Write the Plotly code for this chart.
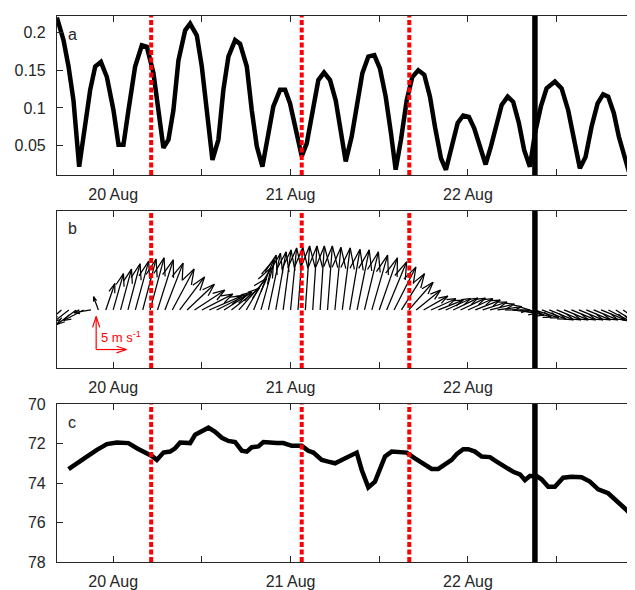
import pandas as pd
import plotly.graph_objects as go

DAY0 = pd.Timestamp("2016-08-20 00:00")

# ---- data (hours since 20 Aug 00:00) ----
# panel a
a_hours = [-7.61, -6.72, -6.04, -5.37, -4.60, -3.79, -3.11, -2.43, -1.66, -0.85, 0.04,
           0.72, 1.39, 2.07, 2.97, 3.88, 4.56, 5.45, 6.12, 6.80, 7.48,
           8.15, 8.83, 9.74, 10.41, 11.32, 11.99, 12.67, 13.43, 14.24, 14.91,
           15.59, 16.50, 17.17, 18.08, 18.75, 19.43, 20.19, 21.00, 21.67, 22.58,
           23.26, 23.93, 24.61, 25.51, 26.19, 27.08, 27.76, 28.53, 29.34, 30.11,
           30.83, 31.46, 32.27, 32.95, 33.71, 34.52, 35.33, 36.10, 36.87, 37.59,
           38.22, 38.94, 39.71, 40.47, 41.28, 42.09, 42.86, 43.54, 44.35, 45.02,
           45.80, 46.61, 47.36, 48.13, 48.85, 49.62, 50.39, 51.11, 51.88, 52.56,
           53.37, 54.12, 54.89, 55.61, 56.38, 57.06, 57.87, 58.64, 59.76, 60.67,
           61.56, 62.37, 63.14, 63.91, 64.72, 65.54, 66.29, 66.97, 67.74, 68.41,
           69.23, 69.90, 70.58]
a_vals = [0.220, 0.190, 0.155, 0.110, 0.022, 0.075, 0.124, 0.155, 0.161, 0.141, 0.097,
          0.051, 0.051, 0.097, 0.155, 0.183, 0.181, 0.146, 0.097, 0.047, 0.058,
          0.097, 0.163, 0.203, 0.212, 0.196, 0.155, 0.097, 0.031, 0.058, 0.124,
          0.168, 0.190, 0.185, 0.155, 0.097, 0.049, 0.022, 0.066, 0.102, 0.124,
          0.124, 0.106, 0.075, 0.036, 0.053, 0.097, 0.137, 0.147, 0.137, 0.110,
          0.067, 0.029, 0.062, 0.106, 0.146, 0.168, 0.170, 0.152, 0.115, 0.066,
          0.018, 0.058, 0.110, 0.141, 0.150, 0.144, 0.115, 0.075, 0.033, 0.018,
          0.049, 0.080, 0.090, 0.088, 0.073, 0.047, 0.025, 0.049, 0.080, 0.104,
          0.115, 0.108, 0.080, 0.044, 0.022, 0.066, 0.102, 0.126, 0.135, 0.126,
          0.097, 0.058, 0.020, 0.035, 0.075, 0.106, 0.118, 0.115, 0.093, 0.062,
          0.031, 0.011, 0.040]

# panel b: hourly wind vectors (m/s)
wind_hours = list(range(-7, 71))
wind_u = [-1.5, -2.5, -3.2, -3.3, -2.8, -0.8, 1.5, 1.7, 1.8, 2.0,
          2.2, 2.2, 2.3, 2.6, 3.0, 3.6, 4.1, 4.5, 5.0, 5.1,
          5.3, 5.0, 4.6, 4.6, 4.6, 4.1, 3.3, 2.5, 2.0, 1.7,
          1.3, 1.0, 0.8, 0.7, 0.7, 0.7, 0.8, 1.0, 1.3, 1.7,
          2.0, 2.3, 2.6, 3.0, 3.3, 3.6, 3.8, 4.0, 4.0, 4.0,
          4.1, 4.1, 4.1, 4.1, 4.1, 4.1, 4.1, 4.0, 4.0, 4.0,
          4.0, 4.0, 4.0, 4.0, 4.0, 4.0, 4.0, 4.0, 4.0, 4.0,
          4.0, 4.0, 4.0, 4.0, 3.6, 3.1, 2.6, 2.3]
wind_v = [-1.2, -1.8, -2.2, -1.6, -0.4, 2.0, 4.0, 5.5, 6.2, 7.0,
          7.4, 7.7, 7.9, 7.6, 7.1, 6.2, 5.0, 3.9, 3.0, 2.4,
          2.1, 2.3, 2.7, 3.3, 4.8, 6.4, 7.6, 8.3, 8.6, 8.8,
          9.1, 9.4, 9.5, 9.7, 9.7, 9.7, 9.7, 9.5, 9.4, 9.2,
          9.1, 8.8, 8.3, 7.9, 7.3, 6.5, 5.5, 4.2, 3.0, 2.1,
          1.7, 1.5, 1.7, 1.8, 1.8, 1.7, 1.5, 1.2, 0.9, 0.5,
          0.0, -0.5, -0.8, -1.1, -1.2, -1.4, -1.5, -1.5, -1.5, -1.5,
          -1.5, -1.5, -1.5, -1.5, -1.7, -1.8, -1.8, -1.8]

# panel c
c_hours = [-6.04, -5.14, -3.56, -2.20, -0.85, 0.50, 2.07, 3.20, 4.56, 5.23,
           5.91, 6.80, 7.71, 8.38, 9.06, 9.74, 10.41, 11.09, 11.99, 12.89,
           13.79, 14.70, 15.59, 16.50, 17.40, 18.08, 18.75, 19.65, 20.32, 21.23,
           22.13, 23.03, 24.16, 25.51, 26.41, 27.08, 28.22, 29.11, 30.02, 30.92,
           32.04, 32.95, 33.63, 34.52, 35.42, 36.10, 36.78, 37.68, 38.80, 39.71,
           40.83, 41.96, 43.09, 43.98, 44.89, 45.80, 46.47, 47.36, 48.04, 48.95,
           49.85, 50.97, 51.88, 53.00, 54.12, 55.03, 55.71, 56.38, 57.29, 57.96,
           58.86, 59.76, 60.88, 62.02, 63.37, 64.49, 65.62, 66.97, 68.10, 69.23,
           70.58]
c_vals = [73.30, 73.09, 72.66, 72.32, 72.03, 71.95, 71.98, 72.24, 72.49, 72.63,
          72.83, 72.46, 72.41, 72.24, 71.95, 71.98, 71.98, 71.56, 71.39, 71.20,
          71.41, 71.71, 71.87, 71.93, 72.36, 72.41, 72.19, 72.15, 71.93, 71.97,
          71.98, 71.98, 72.12, 72.12, 72.37, 72.46, 72.83, 72.92, 73.00, 72.83,
          72.63, 72.46, 73.34, 74.22, 73.93, 73.34, 72.66, 72.41, 72.41, 72.46,
          72.75, 73.03, 73.29, 73.29, 73.09, 72.83, 72.54, 72.29, 72.29, 72.41,
          72.66, 72.69, 72.92, 73.17, 73.43, 73.56, 73.85, 73.65, 73.65, 73.81,
          74.19, 74.19, 73.73, 73.68, 73.71, 73.93, 74.32, 74.52, 74.87, 75.29,
          75.80]

red_events = [5.14, 25.51, 40.06]
black_events = [57.06]

tick_hours = [0, 12, 24, 36, 48, 60]
tick_text = ["20 Aug", "", "21 Aug", "", "22 Aug", ""]

# ---- layout geometry (page has an 8px body margin) ----
W, H = 627, 582
LEFT = 49
X_RANGE_H = [-7.6, 70.6]
B_RANGE = [-8.8, 15.0]
PX_PER_H = (W - LEFT) / (X_RANGE_H[1] - X_RANGE_H[0])
PX_PER_MS_Y = 157 / (B_RANGE[1] - B_RANGE[0])
PX_PER_MS_X = 6.06
ALPHA, BETA = 0.33, 0.33

INK = "#262626"
FONT = "Liberation Sans"


def t(h):
    return DAY0 + pd.Timedelta(hours=h)


def quiver(hours, us, vs, y0=0.0):
    # matlab-style arrows: shaft plus two head strokes, built in pixel space
    xs, ys = [], []
    for h, u, v in zip(hours, us, vs):
        pu, pv = u * PX_PER_MS_X, v * PX_PER_MS_Y
        pts = [(0, 0), (pu, pv), None,
               (pu - ALPHA * (pu + BETA * pv), pv - ALPHA * (pv - BETA * pu)),
               (pu, pv),
               (pu - ALPHA * (pu - BETA * pv), pv - ALPHA * (pv + BETA * pu)),
               None]
        for p in pts:
            if p is None:
                xs.append(None)
                ys.append(None)
            else:
                xs.append(t(h + p[0] / PX_PER_H))
                ys.append(y0 + p[1] / PX_PER_MS_Y)
    return xs, ys


fig = go.Figure()

fig.add_trace(go.Scatter(x=[t(h) for h in a_hours], y=a_vals, mode="lines",
                         line=dict(color="black", width=4.5), xaxis="x", yaxis="y"))

qx, qy = quiver(wind_hours, wind_u, wind_v)
fig.add_trace(go.Scatter(x=qx, y=qy, mode="lines",
                         line=dict(color="black", width=1.25), xaxis="x2", yaxis="y2"))

# 5 m/s scale arrows
leg_h, leg_v = -2.3, -6.0
lx, ly = quiver([leg_h, leg_h], [0, 5], [5, 0], y0=leg_v)
fig.add_trace(go.Scatter(x=lx, y=ly, mode="lines",
                         line=dict(color="red", width=1.2), xaxis="x2", yaxis="y2"))
fig.add_annotation(x=t(leg_h + 0.35), y=leg_v + 1.9, xref="x2", yref="y2",
                   text="5 m s<sup>-1</sup>", showarrow=False, xanchor="left",
                   yanchor="middle", font=dict(family=FONT, size=13, color="red"))

fig.add_trace(go.Scatter(x=[t(h) for h in c_hours], y=c_vals, mode="lines",
                         line=dict(color="black", width=4.5), xaxis="x3", yaxis="y3"))

doms = {
    "a": [(H - 167) / H, (H - 8) / H],
    "b": [(H - 360) / H, (H - 203) / H],
    "c": [(H - 554) / H, (H - 396) / H],
}

xcommon = dict(type="date", range=[t(X_RANGE_H[0]), t(X_RANGE_H[1])],
               tickvals=[t(h) for h in tick_hours], ticktext=tick_text,
               ticks="inside", ticklen=6, tickwidth=1, tickcolor=INK,
               showline=True, linecolor=INK, linewidth=1.2, mirror="ticks",
               showgrid=False, zeroline=False, ticklabelstandoff=5, automargin=False,
               tickfont=dict(family=FONT, size=16, color=INK))
ycommon = dict(ticks="inside", ticklen=6, tickwidth=1, tickcolor=INK,
               showline=True, linecolor=INK, linewidth=1.2, mirror="ticks",
               showgrid=False, zeroline=False, ticklabelstandoff=7, automargin=False,
               tickfont=dict(family=FONT, size=16, color=INK))

fig.update_layout(
    width=W, height=H, showlegend=False,
    paper_bgcolor="white", plot_bgcolor="white",
    margin=dict(l=LEFT, r=0, t=0, b=0),
    xaxis=dict(xcommon, anchor="y"),
    xaxis2=dict(xcommon, anchor="y2"),
    xaxis3=dict(xcommon, anchor="y3"),
    yaxis=dict(ycommon, domain=doms["a"], range=[0.011, 0.222], anchor="x",
               tickvals=[0.05, 0.1, 0.15, 0.2], ticktext=["0.05", "0.1", "0.15", "0.2"]),
    yaxis2=dict(ycommon, domain=doms["b"], range=B_RANGE, anchor="x2",
                ticks="", showticklabels=False, mirror=True),
    yaxis3=dict(ycommon, domain=doms["c"], range=[78, 70], anchor="x3",
                tickvals=[70, 72, 74, 76, 78]),
)

# event lines across all panels
for xa, ya in [("x", "y"), ("x2", "y2"), ("x3", "y3")]:
    for h in red_events:
        fig.add_shape(type="line", x0=t(h), x1=t(h), y0=0, y1=1, xref=xa, yref=ya + " domain",
                      line=dict(color="red", width=4, dash="5px,2.5px"))
    for h in black_events:
        fig.add_shape(type="line", x0=t(h), x1=t(h), y0=0, y1=1, xref=xa, yref=ya + " domain",
                      line=dict(color="black", width=5.5))

for label, ya in [("a", "y"), ("b", "y2"), ("c", "y3")]:
    fig.add_annotation(x=0.015, y=0.886, xref=ya.replace("y", "x") + " domain",
                       yref=ya + " domain", text=label, showarrow=False,
                       xanchor="left", yanchor="middle",
                       font=dict(family=FONT, size=16, color=INK))

fig.write_html("out.html")
